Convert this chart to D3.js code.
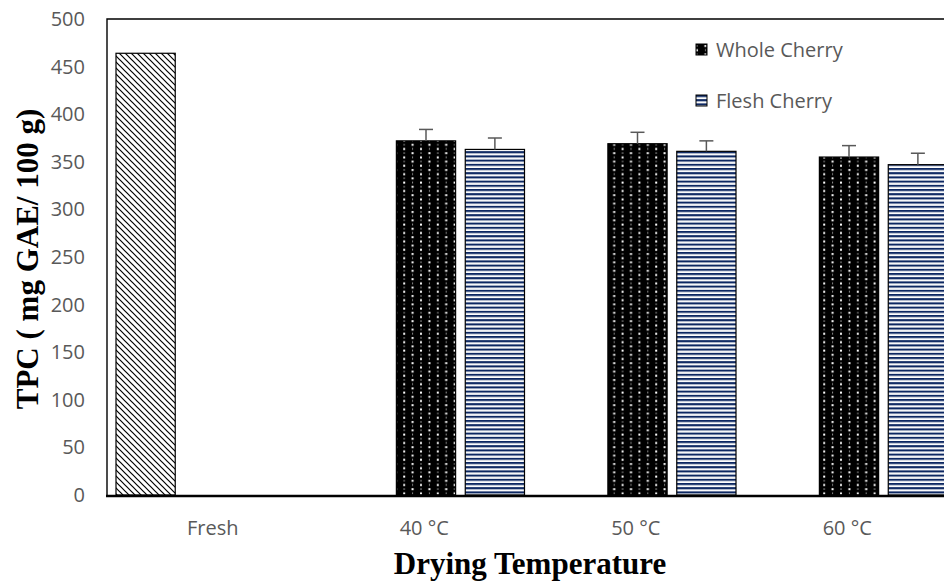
<!DOCTYPE html>
<html>
<head>
<meta charset="utf-8">
<script src="https://cdn.jsdelivr.net/npm/d3@7"></script>
<style>
  body { margin: 0; background: #fff; }
  svg { display: block; }
</style>
</head>
<body>
<script>
// categories and series
const categories = ["Fresh", "40 °C", "50 °C", "60 °C"];
const seriesNames = ["Fresh", "Whole Cherry", "Flesh Cherry"];

// values per series (null = no bar)
const freshValues = [464, null, null, null];
const wholeValues = [null, 372, 369, 355];
const fleshValues = [null, 363, 361, 347];

// error bar size (plus only)
const wholeErrors = [null, 12, 12, 12];
const fleshErrors = [null, 12, 11, 12];

const yTicks = [0, 50, 100, 150, 200, 250, 300, 350, 400, 450, 500];

const legendNames = ["Whole Cherry", "Flesh Cherry"];

// width and height
const w = 944;
const h = 585;
const plotLeft = 107;
const plotTop = 19;
const plotBottom = 495;
const plotRight = plotLeft + 4 * 211.5;

const svg = d3
  .select("body")
  .append("svg")
  .attr("width", w)
  .attr("height", h);

// patterns
const defs = svg.append("defs");

const pFresh = defs
  .append("pattern")
  .attr("id", "pat-fresh")
  .attr("patternUnits", "userSpaceOnUse")
  .attr("width", 6)
  .attr("height", 6);
pFresh.append("rect").attr("width", 6).attr("height", 6).attr("fill", "#fff");
pFresh
  .append("path")
  .attr("d", "M-1,-1 L7,7 M-1,5 L1,7 M5,-1 L7,1")
  .attr("stroke", "#000")
  .attr("stroke-width", 1.2);

// black with staggered white dots
const pWhole = defs
  .append("pattern")
  .attr("id", "pat-whole")
  .attr("patternUnits", "userSpaceOnUse")
  .attr("width", 16.8)
  .attr("height", 8.4);
pWhole.append("rect").attr("width", 16.8).attr("height", 8.4).attr("fill", "#000");
pWhole.append("rect").attr("x", 8.4).attr("y", 1).attr("width", 2).attr("height", 2).attr("fill", "#fff");
pWhole.append("rect").attr("x", 0.5).attr("y", 1).attr("width", 1).attr("height", 1.8).attr("fill", "#999");
pWhole.append("rect").attr("x", 0).attr("y", 5.2).attr("width", 2).attr("height", 2).attr("fill", "#fff");
pWhole.append("rect").attr("x", 8.9).attr("y", 5.2).attr("width", 1).attr("height", 1.8).attr("fill", "#999");

const pFlesh = defs
  .append("pattern")
  .attr("id", "pat-flesh")
  .attr("patternUnits", "userSpaceOnUse")
  .attr("width", 8)
  .attr("height", 4.2);
pFlesh.append("rect").attr("width", 8).attr("height", 4.2).attr("fill", "#fff");
pFlesh.append("rect").attr("y", 0).attr("width", 8).attr("height", 1.9).attr("fill", "#0c2762");
pFlesh.append("rect").attr("y", 1.9).attr("width", 8).attr("height", 0.7).attr("fill", "#8a98b3");

const fills = {
  "Fresh": "url(#pat-fresh)",
  "Whole Cherry": "url(#pat-whole)",
  "Flesh Cherry": "url(#pat-flesh)",
};

// create scale functions
const x0 = d3
  .scaleBand()
  .domain(categories)
  .range([plotLeft, plotRight])
  .padding(0);

const x1 = d3
  .scaleBand()
  .domain(seriesNames)
  .range([9, 206])
  .paddingInner(0.14)
  .paddingOuter(0);

const yScale = d3.scaleLinear().domain([0, 500]).range([plotBottom, plotTop]);

// build rows from the arrays
const seriesValues = [freshValues, wholeValues, fleshValues];
const seriesErrors = [null, wholeErrors, fleshErrors];
const bars = [];
seriesNames.forEach((s, si) => {
  categories.forEach((c, ci) => {
    const v = seriesValues[si][ci];
    if (v !== null) {
      bars.push({ cat: c, series: s, value: v, err: seriesErrors[si] ? seriesErrors[si][ci] : null });
    }
  });
});

// y axis ticks
const yAxis = d3.axisLeft(yScale).tickValues(yTicks).tickSize(0).tickPadding(22);
svg
  .append("g")
  .attr("class", "y axis")
  .attr("transform", `translate(${plotLeft},0)`)
  .call(yAxis)
  .call((g) => g.select(".domain").remove())
  .selectAll("text")
  .attr("fill", "#595959")
  .attr("font-family", "'Open Sans', sans-serif")
  .attr("font-size", 20);

// bars
svg
  .append("g")
  .attr("id", "bars")
  .selectAll("rect")
  .data(bars)
  .enter()
  .append("rect")
  .attr("x", (d) => x0(d.cat) + x1(d.series))
  .attr("y", (d) => yScale(d.value))
  .attr("width", x1.bandwidth())
  .attr("height", (d) => plotBottom - yScale(d.value))
  .attr("fill", (d) => fills[d.series])
  .attr("stroke", "#000")
  .attr("stroke-width", 1.2);

// error bars
const errG = svg.append("g").attr("id", "errors");
bars
  .filter((d) => d.err)
  .forEach((d) => {
    const cx = x0(d.cat) + x1(d.series) + x1.bandwidth() / 2;
    errG
      .append("line")
      .attr("x1", cx)
      .attr("x2", cx)
      .attr("y1", yScale(d.value))
      .attr("y2", yScale(d.value + d.err))
      .attr("stroke", "#595959")
      .attr("stroke-width", 1.5);
    errG
      .append("line")
      .attr("x1", cx - 7)
      .attr("x2", cx + 7)
      .attr("y1", yScale(d.value + d.err))
      .attr("y2", yScale(d.value + d.err))
      .attr("stroke", "#595959")
      .attr("stroke-width", 1.5);
  });

// plot frame
svg
  .append("path")
  .attr("d", `M${plotLeft},${plotBottom} L${plotLeft},${plotTop} L${plotRight},${plotTop} L${plotRight},${plotBottom}`)
  .attr("fill", "none")
  .attr("stroke", "#000")
  .attr("stroke-width", 1.4);

// x axis
const xAxis = d3.axisBottom(x0).tickSize(0).tickPadding(26);
svg
  .append("g")
  .attr("class", "x axis")
  .attr("transform", `translate(0, ${plotBottom})`)
  .call(xAxis)
  .call((g) => g.select(".domain").remove())
  .selectAll("text")
  .attr("fill", "#595959")
  .attr("font-family", "'Open Sans', sans-serif")
  .attr("font-size", 20);

svg
  .append("line")
  .attr("x1", plotLeft - 1)
  .attr("x2", plotRight)
  .attr("y1", plotBottom + 1)
  .attr("y2", plotBottom + 1)
  .attr("stroke", "#000")
  .attr("stroke-width", 2.6);

// axis titles
svg
  .append("text")
  .attr("x", (plotLeft + plotRight) / 2)
  .attr("y", 574)
  .attr("text-anchor", "middle")
  .attr("font-family", "'Liberation Serif', 'Times New Roman', serif")
  .attr("font-weight", "bold")
  .attr("font-size", 31)
  .attr("fill", "#000")
  .text("Drying Temperature");

svg
  .append("text")
  .attr("transform", "rotate(-90)")
  .attr("x", -259)
  .attr("y", 38)
  .attr("text-anchor", "middle")
  .attr("font-family", "'Liberation Serif', 'Times New Roman', serif")
  .attr("font-weight", "bold")
  .attr("font-size", 31)
  .attr("fill", "#000")
  .text("TPC ( mg GAE/ 100 g)");

// legend
const legend = svg
  .append("g")
  .attr("id", "legend")
  .selectAll("g")
  .data(legendNames)
  .enter()
  .append("g")
  .attr("transform", (d, i) => `translate(696, ${44 + i * 51})`);

legend
  .append("rect")
  .attr("width", 11)
  .attr("height", 11)
  .attr("fill", (d) => fills[d])
  .attr("stroke", "#000")
  .attr("stroke-width", 1);

legend
  .append("text")
  .attr("x", 20)
  .attr("y", 6)
  .attr("dy", "0.35em")
  .attr("fill", "#595959")
  .attr("font-family", "'Open Sans', sans-serif")
  .attr("font-size", 20)
  .text((d) => d);
</script>
</body>
</html>
